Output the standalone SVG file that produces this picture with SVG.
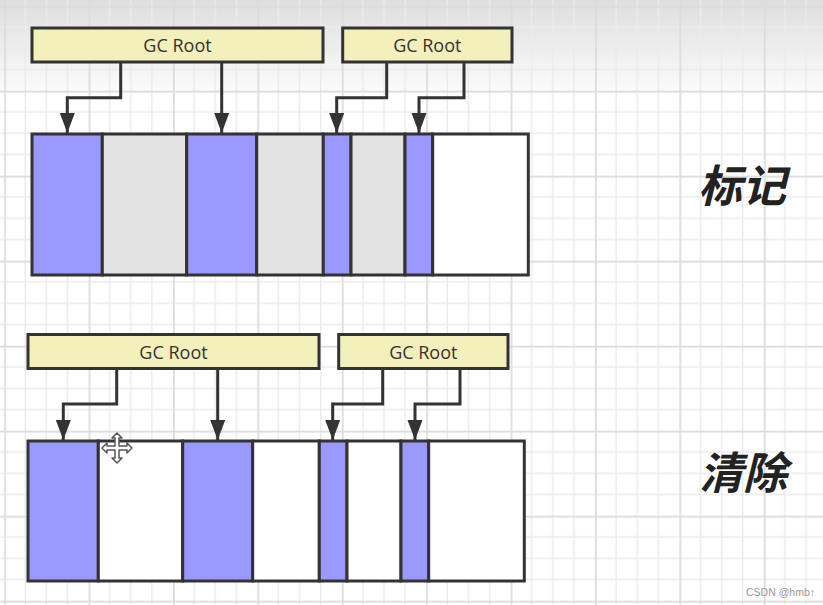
<svg xmlns="http://www.w3.org/2000/svg" width="823" height="605" viewBox="0 0 823 605">
<style>
.root{fill:#f3f0bb;stroke:#333;stroke-width:3}
.rt{font-family:"Open Sans","Liberation Sans",sans-serif;font-size:18px;fill:#333;text-anchor:middle}
.b{fill:#9999ff;stroke:#333;stroke-width:3}
.g{fill:#e3e3e3;stroke:#333;stroke-width:3}
.w{fill:#ffffff;stroke:#333;stroke-width:3}
.c{fill:none;stroke:#333;stroke-width:3;marker-end:url(#ah)}
.big{font-family:"Noto Sans CJK SC","Noto Sans",sans-serif;font-size:44px;font-weight:bold;font-style:italic;fill:#222;text-anchor:middle}
</style>
<defs>
<linearGradient id="top" x1="0" y1="0" x2="0" y2="1">
<stop offset="0" stop-color="#dedede"/>
<stop offset="1" stop-color="#fbfbfb"/>
</linearGradient>
<pattern id="grid" patternUnits="userSpaceOnUse" x="4.2" y="5.7" width="84.4" height="85">
<path d="M21.1 0V85M42.2 0V85M63.3 0V85M0 21.25H84.4M0 42.5H84.4M0 63.75H84.4" stroke="#ebebeb" stroke-width="1.5" fill="none"/>
<path d="M0.75 0V85M0 0.75H84.4" stroke="#dcdcdc" stroke-width="2" fill="none"/>
</pattern>
<marker id="ah" markerUnits="userSpaceOnUse" markerWidth="22" markerHeight="16" viewBox="0 0 22 16" refX="20" refY="8" orient="auto">
<path d="M0 0.5L20 8L0 15.5Z" fill="#333"/>
</marker>
</defs>
<rect width="823" height="605" fill="#fff"/>
<rect width="823" height="91" fill="url(#top)"/>
<rect width="823" height="605" fill="url(#grid)"/>

<g id="connectors">
<path class="c" d="M120.7 62V97.7H67.3V133"/>
<path class="c" d="M221.7 62V133"/>
<path class="c" d="M386.7 62V97.7H336.7V133"/>
<path class="c" d="M464 62V97.7H419V133"/>
<path class="c" d="M116.7 368V404H63.3V440"/>
<path class="c" d="M217.7 368V440"/>
<path class="c" d="M382.7 368V404H332.7V440"/>
<path class="c" d="M460 368V404H415V440"/>
</g>

<g id="gcroot1"><rect class="root" x="32" y="28" width="291" height="34"/><text class="rt" x="177.5" y="52">GC Root</text></g>
<g id="gcroot2"><rect class="root" x="342.7" y="28" width="169.3" height="34"/><text class="rt" x="427.3" y="52">GC Root</text></g>

<g id="heap-mark">
<rect class="b" x="32" y="134" width="70.3" height="141"/>
<rect class="g" x="102.3" y="134" width="84.4" height="141"/>
<rect class="b" x="186.7" y="134" width="70" height="141"/>
<rect class="g" x="256.7" y="134" width="66.6" height="141"/>
<rect class="b" x="323.3" y="134" width="27.7" height="141"/>
<rect class="g" x="351" y="134" width="54" height="141"/>
<rect class="b" x="405" y="134" width="27.7" height="141"/>
<rect class="w" x="432.7" y="134" width="95.6" height="141"/>
</g>

<g id="label-mark"><text class="big" x="742" y="202">标记</text></g>

<g id="gcroot3"><rect class="root" x="28" y="334.5" width="291" height="34"/><text class="rt" x="173.5" y="358.5">GC Root</text></g>
<g id="gcroot4"><rect class="root" x="338.7" y="334.5" width="169.3" height="34"/><text class="rt" x="423.3" y="358.5">GC Root</text></g>

<g id="heap-sweep">
<rect class="b" x="28" y="441" width="70.3" height="140"/>
<rect class="w" x="98.3" y="441" width="84.4" height="140"/>
<rect class="b" x="182.7" y="441" width="70" height="140"/>
<rect class="w" x="252.7" y="441" width="66.6" height="140"/>
<rect class="b" x="319.3" y="441" width="27.7" height="140"/>
<rect class="w" x="347" y="441" width="54" height="140"/>
<rect class="b" x="401" y="441" width="27.7" height="140"/>
<rect class="w" x="428.7" y="441" width="95.6" height="140"/>
</g>

<g id="label-sweep"><text class="big" x="743" y="489">清除</text></g>

<g id="cursor" transform="translate(117 448)">
<polygon points="0,-15 5,-10 2,-10 2,-2 10,-2 10,-5 15,0 10,5 10,2 2,2 2,10 5,10 0,15 -5,10 -2,10 -2,2 -10,2 -10,5 -15,0 -10,-5 -10,-2 -2,-2 -2,-10 -5,-10" fill="#fff" stroke="#555" stroke-width="1.5" stroke-linejoin="round"/>
</g>

<text x="746" y="596" font-family="'Liberation Sans',sans-serif" font-size="10.5" fill="#999">CSDN @hmb↑</text>
</svg>
